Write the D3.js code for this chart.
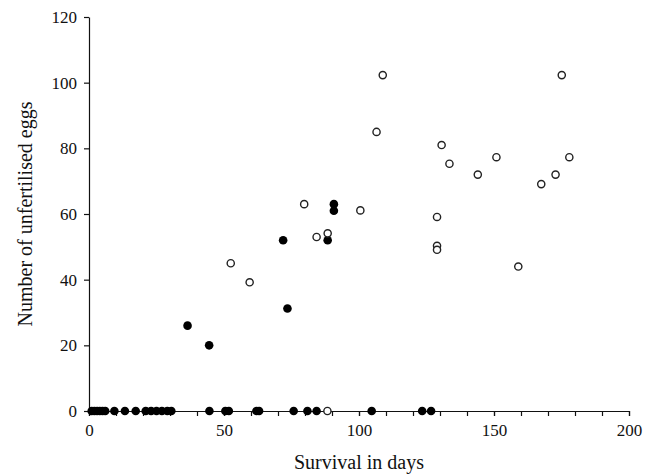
<!DOCTYPE html>
<html>
<head>
<meta charset="utf-8">
<script src="https://cdn.jsdelivr.net/npm/d3@7"></script>
<style>
  body { margin: 0; background: #fff; }
  svg text { font-family: "Liberation Serif", "Times New Roman", serif; fill: #111; }
  .axis path, .axis line { stroke: #111; stroke-width: 1.2; }
</style>
</head>
<body>
<script>
// survival (days) and unfertilised eggs, filled markers
var filledDays = [1, 2, 3, 4, 5, 6, 9.4, 13.3, 17.3, 21, 23, 25, 27, 29, 30.5,
                  44.6, 50.5, 51.8, 62, 63, 75.8, 80.9, 84.3, 104.7, 123.4, 126.7,
                  36.5, 44.5, 71.9, 73.5, 88.4, 90.7, 90.7];
var filledEggs = [0, 0, 0, 0, 0, 0, 0, 0, 0, 0, 0, 0, 0, 0, 0,
                  0, 0, 0, 0, 0, 0, 0, 0, 0, 0, 0,
                  26, 20, 52, 31.2, 52, 63, 61];

// open markers
var openDays = [52.5, 59.5, 79.7, 84.3, 88.4, 88.3, 100.5, 106.5, 108.8, 128.9, 128.9, 128.9,
                130.6, 133.5, 144, 150.9, 159, 167.5, 172.8, 175.1, 177.9];
var openEggs = [45, 39.2, 63, 53, 54.1, 0, 61.1, 85, 102.3, 59.1, 50.3, 49.1,
                81, 75.3, 72, 77.3, 44, 69.1, 72, 102.3, 77.3];

var xTicks = [0, 50, 100, 150, 200];
var yTicks = [0, 20, 40, 60, 80, 100, 120];

var margin = {top: 17, right: 28, bottom: 65, left: 89},
    width = 657 - margin.left - margin.right,
    height = 476 - margin.top - margin.bottom;

var svg = d3.select("body").append("svg")
    .attr("width", 657)
    .attr("height", 476)
  .append("g")
    .attr("transform", "translate(" + margin.left + "," + margin.top + ")");

var x = d3.scaleLinear().domain([0, 200]).range([0, width]);
var y = d3.scaleLinear().domain([0, 120]).range([height, 0]);

// minor x ticks every 10
svg.append("g")
    .attr("class", "axis")
    .attr("transform", "translate(0," + height + ")")
    .call(d3.axisBottom(x).tickValues(d3.range(0, 201, 10)).tickSize(5).tickFormat(""))
    .call(function(g) { g.select(".domain").remove(); });

svg.append("g")
    .attr("class", "axis")
    .attr("transform", "translate(0," + height + ")")
    .call(d3.axisBottom(x).tickValues(xTicks).tickSize(5).tickSizeOuter(0).tickPadding(8))
    .selectAll("text").style("font-size", "17px");

svg.append("g")
    .attr("class", "axis")
    .call(d3.axisLeft(y).tickValues(yTicks).tickSize(5).tickSizeOuter(0).tickPadding(7))
    .selectAll("text").style("font-size", "17px");

var filled = filledDays.map(function(d, i) { return {x: d, y: filledEggs[i]}; });
var open = openDays.map(function(d, i) { return {x: d, y: openEggs[i]}; });

svg.selectAll(".filled")
    .data(filled)
    .enter().append("circle")
    .attr("class", "filled")
    .attr("cx", function(d) { return x(d.x); })
    .attr("cy", function(d) { return y(d.y); })
    .attr("r", 4.3)
    .attr("fill", "#000");

svg.selectAll(".open")
    .data(open)
    .enter().append("circle")
    .attr("class", "open")
    .attr("cx", function(d) { return x(d.x); })
    .attr("cy", function(d) { return y(d.y); })
    .attr("r", 3.6)
    .attr("fill", "#fff")
    .attr("stroke", "#222")
    .attr("stroke-width", 1.4);

svg.append("text")
    .attr("x", width / 2)
    .attr("y", height + 58)
    .style("text-anchor", "middle")
    .style("font-size", "20px")
    .text("Survival in days");

svg.append("text")
    .attr("transform", "rotate(-90)")
    .attr("x", -height / 2)
    .attr("y", -57)
    .style("text-anchor", "middle")
    .style("font-size", "20px")
    .text("Number of unfertilised eggs");
</script>
</body>
</html>
